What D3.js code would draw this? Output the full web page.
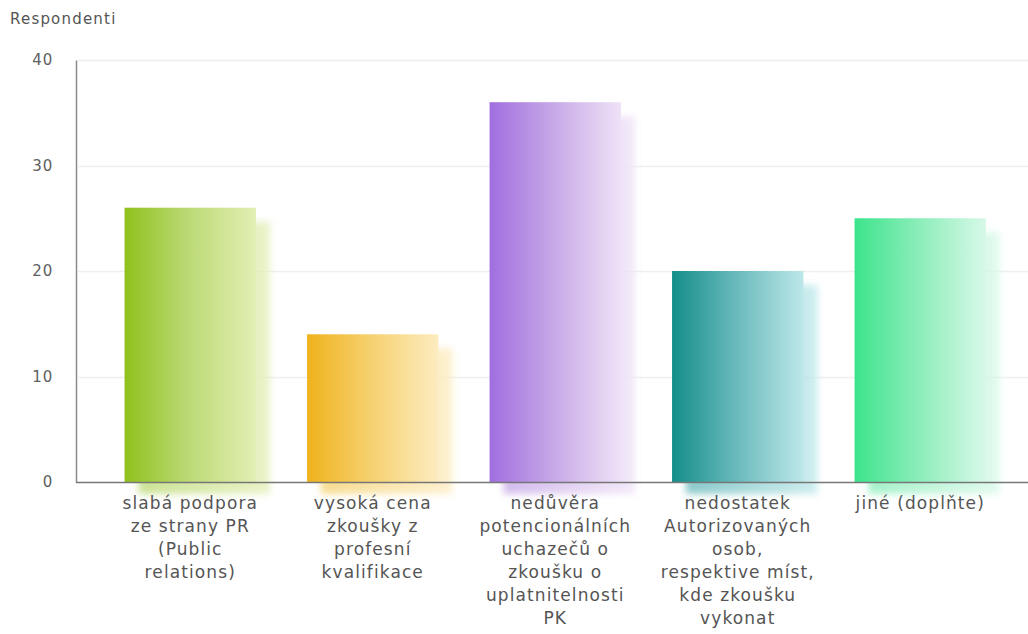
<!DOCTYPE html>
<html>
<head>
<meta charset="utf-8">
<script src="https://cdn.jsdelivr.net/npm/d3@7"></script>
<style>
  html, body { margin: 0; padding: 0; background: #ffffff; }
  svg { display: block; }
  text { font-family: "DejaVu Sans", Verdana, sans-serif; fill: #555; }
</style>
</head>
<body>
<svg id="chart" width="1028" height="634"></svg>
<script>
// Survey answers: number of respondents per reason
const categories = [
  ["slabá podpora", "ze strany PR", "(Public", "relations)"],
  ["vysoká cena", "zkoušky z", "profesní", "kvalifikace"],
  ["nedůvěra", "potencionálních", "uchazečů o", "zkoušku o", "uplatnitelnosti", "PK"],
  ["nedostatek", "Autorizovaných", "osob,", "respektive míst,", "kde zkoušku", "vykonat"],
  ["jiné (doplňte)"]
];
const values = [26, 14, 36, 20, 25];
const yTicks = [0, 10, 20, 30, 40];
const yTitle = "Respondenti";

// gradient stops per bar: strong colour on the left fading to pale on the right
const barColors = [
  ["#8fc11c", "#b9d870", "#e2efb5"],
  ["#f0b21c", "#f5cf6a", "#fcecc0"],
  ["#a06ee0", "#c4a4e6", "#efe2f7"],
  ["#148e8a", "#63b6b8", "#bde8ea"],
  ["#3ce48c", "#86ecb6", "#d8f9e8"]
];

const svg = d3.select("#chart");
const margin = { left: 76, right: 17, top: 60, bottom: 152 };
const W = 1028, H = 634;
const baseY = H - margin.bottom;

const x = d3.scaleBand()
  .domain(d3.range(values.length))
  .range([99, 1011.5])
  .paddingInner(0.28)
  .paddingOuter(0.14);

const y = d3.scaleLinear()
  .domain([0, 40])
  .range([baseY, margin.top]);

const defs = svg.append("defs");
defs.append("filter").attr("id", "soft")
  .attr("x", "-30%").attr("y", "-30%").attr("width", "160%").attr("height", "160%")
  .append("feGaussianBlur").attr("stdDeviation", 3.5);

barColors.forEach((c, i) => {
  const g = defs.append("linearGradient").attr("id", "grad" + i)
    .attr("x1", "0%").attr("x2", "100%").attr("y1", "0%").attr("y2", "0%");
  g.append("stop").attr("offset", "0%").attr("stop-color", c[0]);
  g.append("stop").attr("offset", "45%").attr("stop-color", c[1]);
  g.append("stop").attr("offset", "100%").attr("stop-color", c[2]);
  const s = defs.append("linearGradient").attr("id", "shade" + i)
    .attr("x1", "0%").attr("x2", "100%").attr("y1", "0%").attr("y2", "0%");
  s.append("stop").attr("offset", "0%").attr("stop-color", c[1]);
  s.append("stop").attr("offset", "100%").attr("stop-color", c[2]);
});

// horizontal grid
svg.append("g")
  .selectAll("line")
  .data(yTicks.filter(t => t > 0))
  .join("line")
  .attr("x1", margin.left + 2).attr("x2", W)
  .attr("y1", d => Math.round(y(d)) + 0.5).attr("y2", d => Math.round(y(d)) + 0.5)
  .attr("stroke", "#efefef").attr("stroke-width", 1.5);

// y axis
const yAxis = svg.append("g")
  .attr("transform", `translate(${margin.left},0)`)
  .call(d3.axisLeft(y).tickValues(yTicks).tickSize(0).tickPadding(23));
yAxis.select(".domain").attr("stroke", "#8a8a8a").attr("stroke-width", 1.5);
yAxis.selectAll("text")
  .style("font-size", "15px")
  .style("letter-spacing", "0.8px")
  .style("fill", "#606060");

svg.append("text")
  .attr("x", 10).attr("y", 24)
  .style("font-size", "15px")
  .style("letter-spacing", "1.2px")
  .text(yTitle);

// soft offset shadows behind the bars
const bars = svg.append("g");
bars.selectAll("rect.shadow")
  .data(values)
  .join("rect")
  .attr("class", "shadow")
  .attr("x", (d, i) => x(i) + 14)
  .attr("y", d => y(d) + 14)
  .attr("width", x.bandwidth())
  .attr("height", d => baseY - y(d) - 2)
  .attr("fill", (d, i) => `url(#shade${i})`)
  .attr("opacity", 0.75)
  .attr("filter", "url(#soft)");

bars.selectAll("rect.bar")
  .data(values)
  .join("rect")
  .attr("class", "bar")
  .attr("x", (d, i) => x(i))
  .attr("y", d => y(d))
  .attr("width", x.bandwidth())
  .attr("height", d => baseY - y(d))
  .attr("fill", (d, i) => `url(#grad${i})`);

// baseline
svg.append("line")
  .attr("x1", margin.left).attr("x2", W)
  .attr("y1", baseY + 0.5).attr("y2", baseY + 0.5)
  .attr("stroke", "#777").attr("stroke-width", 1.5);

// multi-line category labels
const labels = svg.append("g");
categories.forEach((lines, i) => {
  const cx = x(i) + x.bandwidth() / 2;
  const t = labels.append("text")
    .attr("x", cx)
    .attr("y", baseY + 27)
    .attr("text-anchor", "middle")
    .style("font-size", "17px")
    .style("letter-spacing", "1.1px");
  lines.forEach((ln, k) => {
    t.append("tspan")
      .attr("x", cx)
      .attr("dy", k === 0 ? 0 : 23)
      .text(ln);
  });
});
</script>
</body>
</html>
